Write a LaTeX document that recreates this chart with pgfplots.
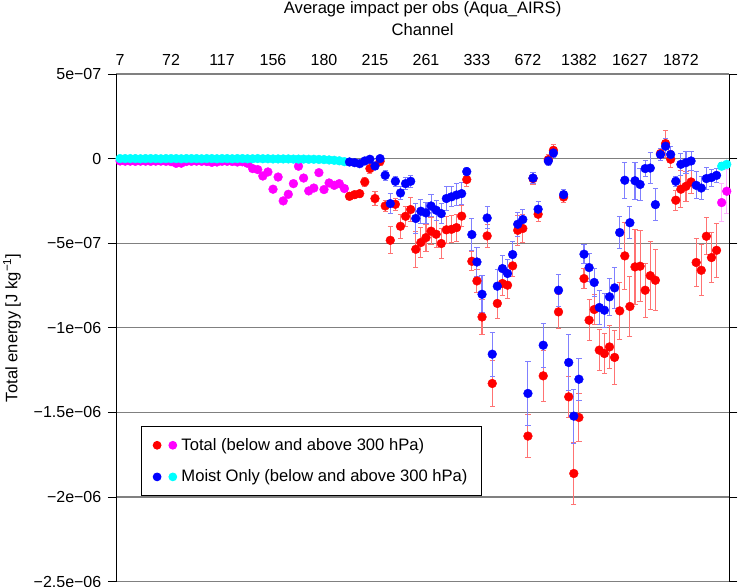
\documentclass[border=0pt]{standalone}
\usepackage{fontspec}
\setmainfont{Liberation Sans}
\usepackage{pgfplots}
\pgfplotsset{compat=1.18}
\usepackage{pgfplotstable}
\definecolor{cRed}{RGB}{255,0,0}
\definecolor{cMag}{RGB}{255,0,255}
\definecolor{cBlue}{RGB}{0,0,255}
\definecolor{cCyan}{RGB}{0,255,255}
\definecolor{gridgray}{RGB}{128,128,128}
\newcommand{\lblfont}{\fontsize{16.6bp}{19.5bp}\selectfont}

% values in units of 1e-07 J/kg; x = channel position index
\pgfplotstableread{
x y
1 -0.14
2 -0.15
3 -0.15
4 -0.16
5 -0.15
6 -0.15
7 -0.16
8 -0.15
9 -0.15
10 -0.16
11 -0.18
12 -0.28
13 -0.27
14 -0.17
15 -0.16
16 -0.15
17 -0.16
18 -0.17
19 -0.22
20 -0.20
21 -0.16
22 -0.16
23 -0.17
24 -0.20
25 -0.19
26 -0.28
27 -0.59
28 -0.65
29 -1.03
30 -0.79
31 -1.81
32 -1.09
33 -2.50
34 -2.11
35 -1.48
36 -0.45
37 -1.15
38 -1.91
39 -1.74
40 -0.83
41 -1.83
42 -1.44
43 -1.58
44 -1.48
45 -1.77
}\magA

\pgfplotstableread{
x y
1 0.00
2 0.00
3 0.00
4 0.00
5 -0.01
6 0.00
7 0.00
8 0.00
9 -0.01
10 0.00
11 0.00
12 0.00
13 -0.01
14 0.00
15 0.00
16 0.00
17 -0.01
18 0.00
19 0.00
20 -0.01
21 0.00
22 0.00
23 -0.01
24 0.00
25 0.00
26 -0.01
27 -0.01
28 0.00
29 -0.01
30 -0.01
31 -0.02
32 -0.02
33 -0.02
34 -0.02
35 -0.03
36 -0.03
37 -0.03
38 -0.04
39 -0.04
40 -0.05
41 -0.06
42 -0.08
43 -0.10
44 -0.13
45 -0.18
}\cyanA

\pgfplotstableread{
x y e
46 -2.23 0.2
47 -2.13 0.2
48 -2.07 0.2
49 -1.38 0.25
50 -0.59 0.3
51 -2.36 0.4
52 -0.16 0.25
53 -2.80 0.35
54 -4.83 0.8
55 -2.70 0.35
56 -4.00 0.7
57 -3.41 0.6
58 -3.01 0.7
59 -5.36 1.05
60 -4.96 0.9
61 -4.67 0.8
62 -4.29 0.8
63 -4.47 0.8
64 -5.02 0.9
65 -4.21 0.8
66 -4.18 0.8
67 -4.08 0.8
68 -3.40 0.6
69 -1.24 0.4
70 -6.07 0.55
71 -7.23 0.7
72 -9.36 1.05
73 -4.57 0.7
74 -13.29 1.35
75 -8.56 0.9
76 -7.38 0.7
77 -7.48 0.8
78 -6.34 0.6
79 -4.24 0.9
80 -4.13 0.8
81 -16.40 1.25
82 -1.18 0.35
83 -3.29 0.4
84 -12.84 1.5
85 -0.06 0.3
86 0.49 0.35
87 -9.06 1.0
88 -2.27 0.35
89 -14.08 1.2
90 -18.61 1.85
91 -15.30 1.4
92 -7.09 0.6
93 -9.55 1.2
94 -8.92 0.9
95 -11.32 1.2
96 -11.52 1.2
97 -11.13 1.25
98 -11.75 1.6
99 -9.00 1.7
100 -5.75 2.0
101 -8.74 1.8
102 -6.40 2.2
103 -6.36 2.1
104 -7.78 1.6
105 -6.92 2.0
106 -7.19 1.8
107 0.30 0.3
108 0.89 0.8
109 -0.04 0.5
110 -2.46 0.6
111 -1.81 1.1
112 -1.64 0.9
113 -1.38 0.7
114 -6.14 1.4
115 -6.60 1.5
116 -4.59 1.1
117 -5.85 1.5
118 -5.42 1.6
}\redT

\pgfplotstableread{
x y e
46 -0.20 0.15
47 -0.24 0.15
48 -0.30 0.15
49 -0.14 0.15
50 -0.04 0.15
51 -0.44 0.2
52 0.00 0.15
53 -0.99 0.3
54 -2.66 0.6
55 -1.34 0.3
56 -2.03 0.4
57 -1.48 0.35
58 -1.34 0.35
59 -3.54 0.9
60 -3.11 0.7
61 -3.21 0.6
62 -2.80 0.65
63 -3.05 0.6
64 -3.25 0.6
65 -2.36 0.7
66 -2.26 0.6
67 -2.15 0.65
68 -2.07 0.65
69 -0.77 0.25
70 -4.49 0.95
71 -6.11 0.85
72 -8.02 1.1
73 -3.51 0.65
74 -11.56 1.3
75 -7.54 1.0
76 -6.50 0.75
77 -6.79 0.8
78 -5.67 0.75
79 -3.88 0.7
80 -3.60 0.6
81 -13.88 1.9
82 -1.15 0.35
83 -2.99 0.45
84 -11.03 1.3
85 -0.14 0.25
86 0.33 0.25
87 -7.78 0.95
88 -2.13 0.3
89 -12.05 1.65
90 -15.22 1.6
91 -13.04 1.25
92 -5.65 0.55
93 -6.44 0.85
94 -7.32 0.85
95 -8.80 1.0
96 -8.96 1.0
97 -8.17 1.1
98 -7.64 1.2
99 -4.37 0.95
100 -1.28 1.05
101 -3.79 0.95
102 -1.31 1.1
103 -1.53 0.95
104 -0.59 0.45
105 -0.56 0.9
106 -2.72 0.95
107 0.24 0.35
108 0.73 0.45
109 0.24 0.45
110 -1.34 0.3
111 -0.34 0.65
112 -0.24 0.65
113 -0.14 0.55
114 -1.58 0.8
115 -1.74 0.7
116 -1.18 0.65
117 -1.12 0.5
118 -0.99 0.4
}\blueT

\pgfplotstableread{
x y e
119 -2.60 1.1
120 -1.93 1.3
}\magB

\pgfplotstableread{
x y e
119 -0.45 0.2
120 -0.34 0.15
}\cyanB

\begin{document}
\fontsize{16bp}{19bp}\selectfont
\begin{tikzpicture}
\path[use as bounding box] (0,0) rectangle (739bp,587bp);
\begin{axis}[
  at={(116bp,5.4bp)}, anchor=south west,
  scale only axis, width=613.3bp, height=507.6bp,
  xmin=0.2, xmax=120.5, ymin=-25, ymax=5,
  separate axis lines,
  x axis line style={draw=none},
  y axis line style={black, line width=1bp},
  xtick={1,11,21,31,41,51,61,71,81,91,101,111},
  xticklabels={7,72,117,156,180,215,261,333,672,1382,1627,1872},
  xticklabel pos=top,
  xtick pos=top,
  every x tick/.style={draw=none},
  xticklabel style={anchor=base, yshift=0bp},
  ytick={-25,-20,-15,-10,-5,0,5},
  yticklabels={−2.5e−06,−2e−06,−1.5e−06,−1e−06,−5e−07,0,5e−07},
  ytick pos=both, yticklabel pos=left,
  tick align=outside,
  major tick length=8bp,
  every y tick/.style={black, line width=0.9bp},
  yticklabel style={inner xsep=6.5bp},
  ymajorgrids,
  grid style={gridgray, line width=1.1bp},
  xlabel={Channel},
  xlabel style={at={(axis description cs:0.5,1.0768)}, anchor=base, font=\lblfont},
  ylabel={Total energy [J kg\textsuperscript{−1}]},
  ylabel style={at={(axis description cs:-0.1696,0.5)}, anchor=center, font=\lblfont},
  extra description/.code={
    \node[anchor=base, font=\lblfont] at (0.5,1.1192) {Average impact per obs (Aqua\_AIRS)};
  },
  legend style={at={(axis description cs:0.0403,0.3065)}, anchor=north west,
    draw=black, fill=white, line width=0.9bp, inner xsep=11.6bp, inner ysep=9.6bp,
    /tikz/row sep=13.2bp, /tikz/column sep=2.3bp, font=\lblfont},
  legend cell align=left,
]
\addplot[only marks, mark=*, color=cMag, mark size=4.4bp, forget plot] table[x=x,y=y] {\magA};
\addplot[only marks, mark=*, color=cCyan, mark size=4.4bp, forget plot] table[x=x,y=y] {\cyanA};

\addplot[only marks, mark=*, color=cRed, mark size=4.4bp,
  legend image code/.code={
    \fill[cRed] (3.9bp,0) circle (3.9bp);
    \fill[cMag] (19.6bp,0) circle (3.9bp);},
  error bars/.cd, y dir=both, y explicit,
  error bar style={red!55, line width=1.1bp},
  error mark options={rotate=90, red!55, mark size=2.6bp, line width=1bp}]
  table[x=x,y=y,y error=e] {\redT};

\addplot[only marks, mark=*, color=cBlue, mark size=4.4bp,
  legend image code/.code={
    \fill[cBlue] (3.9bp,0) circle (3.9bp);
    \fill[cCyan] (19.6bp,0) circle (3.9bp);},
  error bars/.cd, y dir=both, y explicit,
  error bar style={blue!50, line width=1.1bp},
  error mark options={rotate=90, blue!50, mark size=2.6bp, line width=1bp}]
  table[x=x,y=y,y error=e] {\blueT};

\addplot[only marks, mark=*, color=cMag, mark size=4.4bp, forget plot,
  error bars/.cd, y dir=both, y explicit,
  error bar style={cMag!30, line width=1.1bp},
  error mark options={rotate=90, cMag!30, mark size=2.6bp, line width=1bp}]
  table[x=x,y=y,y error=e] {\magB};
\addplot[only marks, mark=*, color=cCyan, mark size=4.4bp, forget plot,
  error bars/.cd, y dir=both, y explicit,
  error bar style={cCyan!60!gray, line width=1.1bp},
  error mark options={rotate=90, cCyan!60!gray, mark size=2.6bp, line width=1bp}]
  table[x=x,y=y,y error=e] {\cyanB};
\legend{Total (below and above 300 hPa), Moist Only (below and above 300 hPa)}
\end{axis}
\end{tikzpicture}
\end{document}
